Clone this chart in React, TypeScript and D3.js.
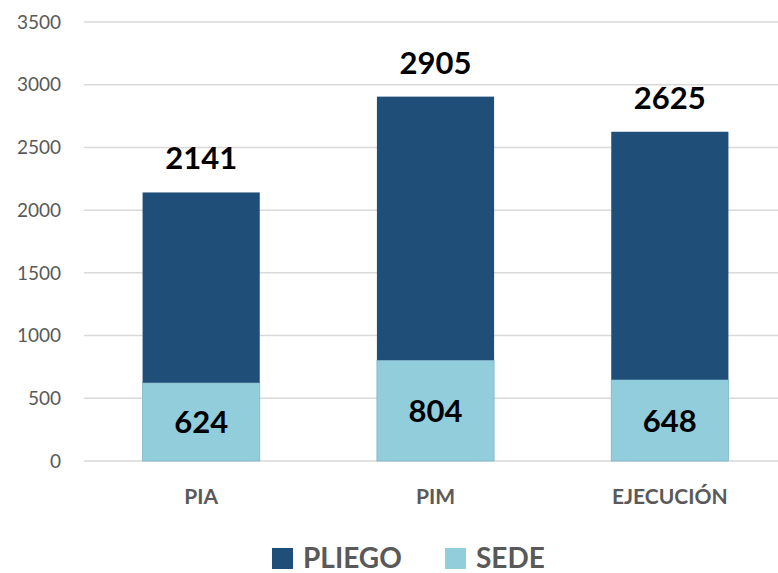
import React, { useEffect, useRef } from "react";
import * as d3 from "d3";

const categories = ["PIA", "PIM", "EJECUCIÓN"];
const sede = [624, 804, 648];
const totals = [2141, 2905, 2625];
const pliego = totals.map((t, i) => t - sede[i]);
const yTicks = [0, 500, 1000, 1500, 2000, 2500, 3000, 3500];
const seriesNames = ["SEDE", "PLIEGO"];

const App = () => {
  const svgRef = useRef<SVGSVGElement>(null);

  useEffect(() => {
    const width = 778;
    const height = 573;
    const left = 84;
    const right = 787;
    const top = 22;
    const bottom = 461;
    const font = "Lato, 'Open Sans', sans-serif";
    const colors: Record<string, string> = { SEDE: "#92CDDC", PLIEGO: "#1F4E79" };

    const svg = d3.select(svgRef.current);
    svg.selectAll("*").remove();
    svg.attr("width", width).attr("height", height);

    svg.append("rect").attr("width", width).attr("height", height).attr("fill", "#fff");

    const x = d3.scaleBand().domain(categories).range([left, right]).paddingInner(0.5).paddingOuter(0.25);
    const y = d3.scaleLinear().domain([0, 3500]).range([bottom, top]);

    // gridlines
    svg
      .append("g")
      .selectAll("line")
      .data(yTicks)
      .enter()
      .append("line")
      .attr("x1", left)
      .attr("x2", width)
      .attr("y1", (d) => y(d))
      .attr("y2", (d) => y(d))
      .attr("stroke", "#D9D9D9")
      .attr("stroke-width", 1.5);

    // y labels
    svg
      .append("g")
      .selectAll("text")
      .data(yTicks)
      .enter()
      .append("text")
      .attr("x", 61)
      .attr("y", (d) => y(d))
      .attr("dy", "0.35em")
      .attr("text-anchor", "end")
      .attr("font-family", font)
      .attr("font-size", 19)
      .attr("fill", "#595959")
      .text((d) => d);

    // stacked bars
    const rows = categories.map((c, i) => ({ cat: c, SEDE: sede[i], PLIEGO: pliego[i] }));
    const stack = d3.stack<any>().keys(seriesNames)(rows);

    stack.forEach((s) => {
      svg
        .append("g")
        .selectAll("rect")
        .data(s)
        .enter()
        .append("rect")
        .attr("x", (d: any) => x(d.data.cat)!)
        .attr("width", x.bandwidth())
        .attr("y", (d) => y(d[1]))
        .attr("height", (d) => y(d[0]) - y(d[1]))
        .attr("fill", colors[s.key])
        .attr("stroke", s.key === "SEDE" ? "#7FB3C8" : "none")
        .attr("stroke-width", 0.8);
    });

    // sede labels
    svg
      .append("g")
      .selectAll("text")
      .data(sede)
      .enter()
      .append("text")
      .attr("x", (_, i) => x(categories[i])! + x.bandwidth() / 2)
      .attr("y", (d) => y(d / 2))
      .attr("dy", "0.36em")
      .attr("text-anchor", "middle")
      .attr("font-family", font)
      .attr("font-weight", "bold")
      .attr("font-size", 31)
      .attr("fill", "#000")
      .text((d) => d);

    // total labels
    svg
      .append("g")
      .selectAll("text")
      .data(totals)
      .enter()
      .append("text")
      .attr("x", (_, i) => x(categories[i])! + x.bandwidth() / 2)
      .attr("y", (d) => y(d) - 23)
      .attr("text-anchor", "middle")
      .attr("font-family", font)
      .attr("font-weight", "bold")
      .attr("font-size", 31)
      .attr("fill", "#000")
      .text((d) => d);

    // category labels
    svg
      .append("g")
      .selectAll("text")
      .data(categories)
      .enter()
      .append("text")
      .attr("x", (d) => x(d)! + x.bandwidth() / 2)
      .attr("y", 504)
      .attr("text-anchor", "middle")
      .attr("font-family", font)
      .attr("font-weight", "bold")
      .attr("font-size", 21)
      .attr("fill", "#595959")
      .text((d) => d);

    // legend
    const legendItems = [
      { name: "PLIEGO", x: 272 },
      { name: "SEDE", x: 445 },
    ];
    const lg = svg.append("g").selectAll("g").data(legendItems).enter().append("g");
    lg.append("rect")
      .attr("x", (d) => d.x)
      .attr("y", 548)
      .attr("width", 21)
      .attr("height", 21)
      .attr("fill", (d) => colors[d.name]);
    lg.append("text")
      .attr("x", (d) => d.x + 31)
      .attr("y", 568)
      .attr("font-family", font)
      .attr("font-weight", "bold")
      .attr("font-size", 28)
      .attr("fill", "#595959")
      .text((d) => d.name);
  }, []);

  return <svg ref={svgRef} style={{ position: "absolute", left: 0, top: 0 }}></svg>;
};

export default App;
